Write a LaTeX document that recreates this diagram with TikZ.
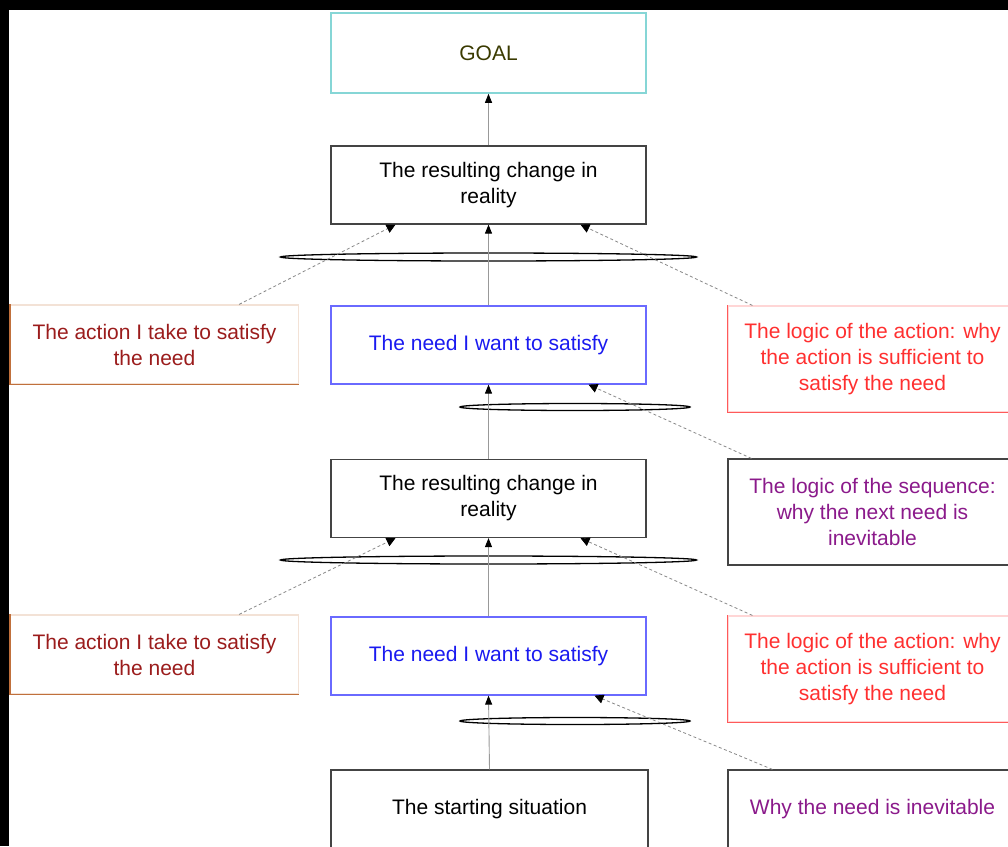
\documentclass[tikz,border=0pt]{standalone}
\usepackage{fontspec}
\setmainfont{Liberation Sans}
\usetikzlibrary{arrows.meta,shapes.geometric}

\definecolor{goalline}{HTML}{86D6D6}
\definecolor{goaltext}{HTML}{3A3A00}
\definecolor{plainline}{HTML}{444444}
\definecolor{needline}{HTML}{6A6AFF}
\definecolor{needtext}{HTML}{1A1AF0}
\definecolor{actdark}{HTML}{C0703C}
\definecolor{actlight}{HTML}{F3E2D6}
\definecolor{acttext}{HTML}{9B1C1C}
\definecolor{logicdark}{HTML}{FF5A5A}
\definecolor{logiclight}{HTML}{FFD6D6}
\definecolor{logictext}{HTML}{FF3030}
\definecolor{whytext}{HTML}{8B1A8B}
\definecolor{linkgray}{HTML}{999999}
\definecolor{dashgray}{HTML}{888888}

\begin{document}
\begin{tikzpicture}[x=1pt,y=-1pt,
  box/.style={draw, rectangle, inner sep=0pt, align=center,
    font=\fontsize{21}{26}\selectfont, line width=1.2pt},
  midbox/.style={box, minimum width=315pt, minimum height=78pt},
  sidebox/.style={box, minimum width=288pt, minimum height=79pt},
  tallbox/.style={box, minimum width=289pt, minimum height=106pt},
  mainlink/.style={draw=linkgray, line width=0.9pt,
    -{Triangle[length=9pt,width=7pt,color=black]}},
  dashlink/.style={draw=dashgray, line width=0.8pt, dash pattern=on 3pt off 2.5pt,
    -{Triangle[length=9pt,width=9pt,color=black]}},
  andjoin/.style={ellipse, draw=black, line width=1.3pt, inner sep=0pt},
]
\useasboundingbox (0,0) rectangle (1008,846);
\fill[black] (0,0) rectangle (1008,846);
\fill[white] (9,10) rectangle (1008,846);

\begin{scope}
\clip (9,10) rectangle (1008,846);

% central column
\node[box, minimum width=315pt, minimum height=80pt, draw=goalline, line width=1.6pt, text=goaltext] (goal) at (488.5,53) {GOAL};
\node[midbox, draw=plainline] (res1) at (488.5,185) {The resulting change in\\reality};
\node[midbox, draw=needline, text=needtext] (need1) at (488.5,345) {The need I want to satisfy};
\node[midbox, draw=plainline] (res2) at (488.5,498.5) {The resulting change in\\reality};
\node[midbox, draw=needline, text=needtext] (need2) at (488.5,656) {The need I want to satisfy};
\node[box, minimum width=317pt, minimum height=78pt, draw=plainline] (start) at (489.5,809) {The starting situation};

% actions on the left
\node[sidebox, draw=actlight, text=acttext] (act1) at (154.5,344.5) {The action I take to satisfy\\the need};
\node[sidebox, draw=actlight, text=acttext] (act2) at (154.5,654.5) {The action I take to satisfy\\the need};
\draw[actdark, line width=1.4pt] (act1.north west) -- (act1.south west) -- (act1.south east);
\draw[actdark, line width=1.4pt] (act2.north west) -- (act2.south west) -- (act2.south east);

% logic boxes on the right
\node[tallbox, draw=logiclight, text=logictext] (logic1) at (872.5,359) {The logic of the action: why\\the action is sufficient to\\satisfy the need};
\node[tallbox, draw=logiclight, text=logictext] (logic2) at (872.5,669) {The logic of the action: why\\the action is sufficient to\\satisfy the need};
\draw[logicdark, line width=1.3pt] (logic1.north west) -- (logic1.south west) -- (logic1.south east);
\draw[logicdark, line width=1.3pt] (logic2.north west) -- (logic2.south west) -- (logic2.south east);
\node[tallbox, draw=plainline, text=whytext] (seq) at (872.5,512) {The logic of the sequence:\\why the next need is\\inevitable};
\node[box, minimum width=289pt, minimum height=78pt, draw=plainline, text=whytext] (why) at (872.5,809) {Why the need is inevitable};

% AND junctions
\node[andjoin, minimum width=416pt, minimum height=8pt] (and1) at (488.5,257) {};
\node[andjoin, minimum width=230pt, minimum height=7pt] (and2) at (575,407) {};
\node[andjoin, minimum width=416pt, minimum height=8pt] (and3) at (488.5,560) {};
\node[andjoin, minimum width=230pt, minimum height=7pt] (and4) at (575,721) {};

% cause-and-effect links
\draw[mainlink] (res1.north) -- (goal.south);
\draw[mainlink] (need1.north) -- (res1.south);
\draw[mainlink] (res2.north) -- (need1.south);
\draw[mainlink] (need2.north) -- (res2.south);
\draw[mainlink] (start.north) -- (need2.south);

\draw[dashlink] ([xshift=-60pt]act1.north east) -- ([xshift=-93pt]res1.south);
\draw[dashlink] ([xshift=25pt]logic1.north west) -- ([xshift=92pt]res1.south);
\draw[dashlink] ([xshift=24pt]seq.north west) -- ([xshift=100pt]need1.south);
\draw[dashlink] ([xshift=-60pt]act2.north east) -- ([xshift=-93pt]res2.south);
\draw[dashlink] ([xshift=25pt]logic2.north west) -- ([xshift=92pt]res2.south);
\draw[dashlink] ([xshift=45pt]why.north west) -- ([xshift=106pt]need2.south);
\end{scope}
\end{tikzpicture}
\end{document}
